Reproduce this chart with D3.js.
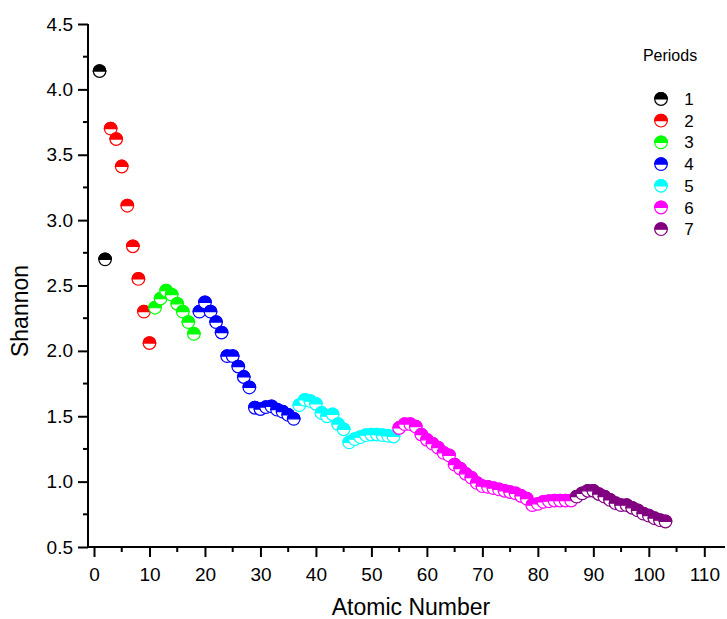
<!DOCTYPE html>
<meta charset="utf-8">
<style>
body { margin: 0; background: #fff; }
.axis text { font-family: "Liberation Sans", Arial, sans-serif; font-size: 19px; fill: #000; }
.axis line { stroke: #000; stroke-width: 2px; }
.title { font-family: "Liberation Sans", Arial, sans-serif; font-size: 23px; fill: #000; }
.legend text { font-family: "Liberation Sans", Arial, sans-serif; font-size: 17px; fill: #000; }
</style>
<body>
<svg id="chart" width="727" height="619"></svg>
<script src="https://cdn.jsdelivr.net/npm/d3@7"></script>
<script>

// Shannon entropy per element, Z = 1 .. 103
var shannon = [
  4.14, 2.70,
  3.70, 3.62, 3.41, 3.11, 2.80, 2.55, 2.30, 2.06,
  2.33, 2.40, 2.46, 2.43, 2.36, 2.30, 2.22, 2.13,
  2.30, 2.37, 2.30, 2.22, 2.14, 1.96, 1.96, 1.88, 1.80, 1.72,
  1.565, 1.555, 1.57, 1.575, 1.55, 1.535, 1.51, 1.48,
  1.585, 1.625, 1.615, 1.595, 1.525, 1.50, 1.515, 1.44, 1.40,
  1.30, 1.325, 1.34, 1.355, 1.36, 1.36, 1.355, 1.35, 1.345,
  1.41, 1.44, 1.44, 1.42, 1.36, 1.32, 1.29, 1.26, 1.22, 1.20,
  1.13, 1.10, 1.06, 1.03, 0.99, 0.965, 0.96, 0.95, 0.94, 0.93,
  0.92, 0.91, 0.89, 0.87, 0.82, 0.83, 0.845, 0.85, 0.855, 0.855,
  0.855, 0.855,
  0.885, 0.91, 0.93, 0.93, 0.905, 0.885, 0.86, 0.835, 0.82, 0.82,
  0.80, 0.78, 0.755, 0.74, 0.72, 0.705, 0.695
];

// last atomic number of each period
var periodEnds = [2, 10, 18, 36, 54, 86, 103];
var periodLabels = ["1", "2", "3", "4", "5", "6", "7"];
var periodColors = ["#000000", "#ff0000", "#00ff00", "#0000ff", "#00ffff", "#ff00ff", "#800080"];

var xTicks = d3.range(0, 111, 10);
var xMinor = d3.range(5, 111, 10);
var yTicks = d3.range(0.5, 4.51, 0.5);
var yMinor = d3.range(0.75, 4.5, 0.5);

var svg = d3.select("#chart");

var x = d3.scaleLinear().domain([0, 110]).range([94, 704.3]),
    y = d3.scaleLinear().domain([0.5, 4.5]).range([547, 24]);

var axisX = 88, axisY = 547, r = 6.3;

function periodOf(z) {
  for (var i = 0; i < periodEnds.length; i++) if (z <= periodEnds[i]) return i;
  return periodEnds.length - 1;
}

var points = shannon.map(function(v, i) {
  return {z: i + 1, v: v, p: periodOf(i + 1)};
});

// axes
var gx = svg.append("g")
    .attr("class", "axis")
    .attr("transform", "translate(0," + axisY + ")")
    .call(d3.axisBottom(x).tickValues(xTicks).tickSize(10).tickSizeOuter(0).tickPadding(5));
gx.select(".domain").remove();
gx.selectAll(".tick text").attr("dy", null).attr("y", 34);

gx.selectAll(".minor")
  .data(xMinor)
  .enter().append("line")
    .attr("class", "minor")
    .attr("x1", function(d) { return x(d); })
    .attr("x2", function(d) { return x(d); })
    .attr("y1", 0)
    .attr("y2", 5);

var gy = svg.append("g")
    .attr("class", "axis")
    .attr("transform", "translate(" + axisX + ",0)")
    .call(d3.axisLeft(y).tickValues(yTicks).tickSize(10).tickSizeOuter(0).tickPadding(5)
      .tickFormat(d3.format(".1f")));
gy.select(".domain").remove();

gy.selectAll(".minor")
  .data(yMinor)
  .enter().append("line")
    .attr("class", "minor")
    .attr("x1", -5)
    .attr("x2", 0)
    .attr("y1", function(d) { return y(d); })
    .attr("y2", function(d) { return y(d); });

svg.append("line")
    .attr("x1", axisX).attr("x2", axisX)
    .attr("y1", y(4.5)).attr("y2", axisY + 1)
    .attr("stroke", "#000").attr("stroke-width", 2);
svg.append("line")
    .attr("x1", axisX - 1).attr("x2", 725)
    .attr("y1", axisY).attr("y2", axisY)
    .attr("stroke", "#000").attr("stroke-width", 2);

svg.append("text")
    .attr("class", "title")
    .attr("text-anchor", "middle")
    .attr("x", 411)
    .attr("y", 615)
    .text("Atomic Number");

svg.append("text")
    .attr("class", "title")
    .attr("text-anchor", "middle")
    .attr("transform", "translate(28,311) rotate(-90)")
    .text("Shannon");

// half-filled circle marker
var topHalf = "M" + (-r) + ",0A" + r + "," + r + " 0 0 1 " + r + ",0Z";

function marker(sel, color) {
  sel.append("circle")
      .attr("r", r)
      .attr("fill", "#fff")
      .attr("stroke", color)
      .attr("stroke-width", 1.2);
  sel.append("path")
      .attr("d", topHalf)
      .attr("fill", color)
      .attr("stroke", color)
      .attr("stroke-width", 1.2);
}

var pts = svg.append("g").selectAll("g")
  .data(points)
  .enter().append("g")
    .attr("transform", function(d) { return "translate(" + x(d.z) + "," + y(d.v) + ")"; });
pts.each(function(d) { marker(d3.select(this), periodColors[d.p]); });

// legend
var legend = svg.append("g").attr("class", "legend");
legend.append("text")
    .attr("x", 670)
    .attr("y", 61)
    .attr("text-anchor", "middle")
    .style("font-size", "16px")
    .text("Periods");

var items = legend.selectAll(".item")
  .data(periodLabels)
  .enter().append("g")
    .attr("class", "item")
    .attr("transform", function(d, i) { return "translate(0," + (99 + i * 21.7) + ")"; });
items.each(function(d, i) {
  var g = d3.select(this).append("g").attr("transform", "translate(661,0)");
  marker(g, periodColors[i]);
});
items.append("text")
    .attr("x", 689)
    .attr("y", 6)
    .attr("text-anchor", "middle")
    .text(function(d) { return d; });

</script>
</body>
